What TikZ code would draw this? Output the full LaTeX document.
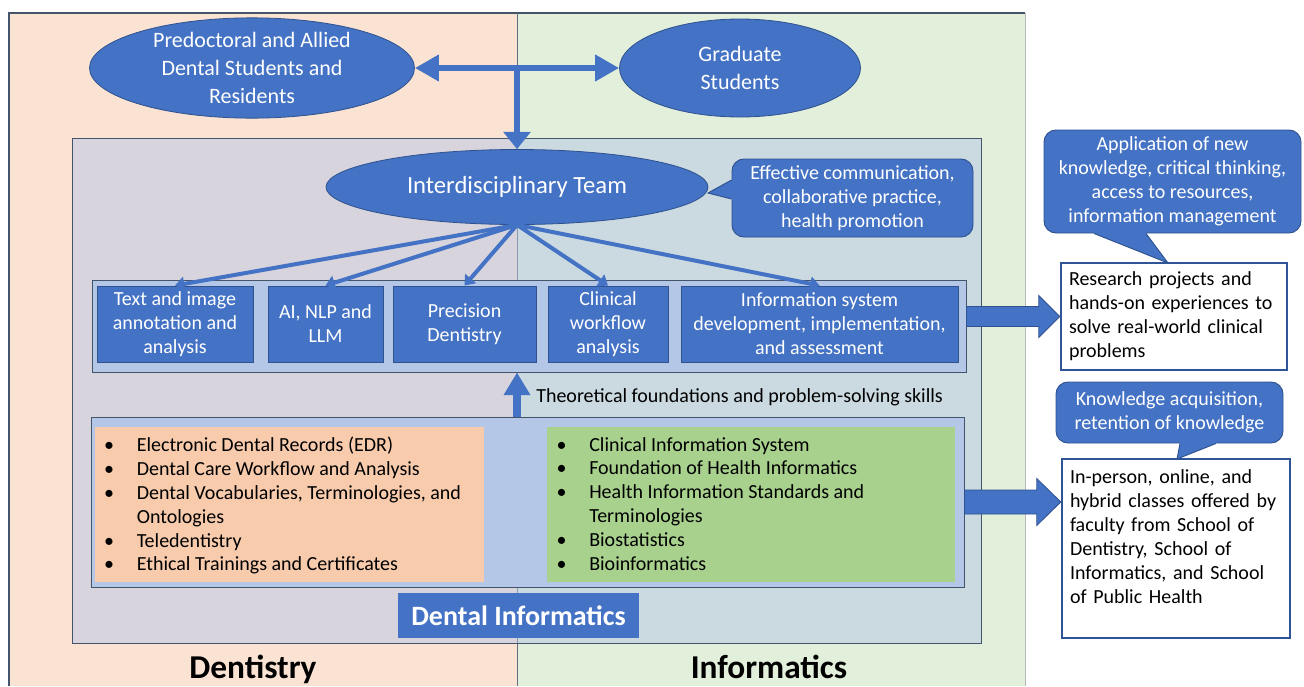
\documentclass[tikz,border=0pt]{standalone}
\usepackage{fontspec}
\setmainfont{Carlito}
\usetikzlibrary{arrows.meta,shapes.geometric,calc}

% one unit of the drawing grid
\newdimen\pxu
\pxu=0.75pt
% bullet hung to the left of a list line
\newcommand{\lbul}{\llap{\textbullet\hspace{17pt}}}

\definecolor{peachbg}{HTML}{FBE3D4}
\definecolor{greenbg}{HTML}{E2EFDA}
\definecolor{rowblue}{HTML}{B4C7E7}
\definecolor{accblue}{HTML}{4472C4}
\definecolor{edgeblue}{HTML}{2F528F}
\definecolor{frameblue}{HTML}{2F5597}
\definecolor{peachlist}{HTML}{F8CBAD}
\definecolor{greenlist}{HTML}{A9D18E}
\definecolor{framegray}{HTML}{44546A}

\begin{document}
\begin{tikzpicture}[x=0.75pt, y=-0.75pt,
  bodyfont/.style={font=\fontsize{15}{18}\selectfont},
  blueell/.style={ellipse, draw=edgeblue, line width=0.6pt, fill=accblue,
    text=white, inner sep=0pt, align=center},
  bluebox/.style={rectangle, draw=edgeblue, line width=0.7pt, fill=accblue,
    text=white, inner sep=0pt, align=center, bodyfont},
  callout/.style={bluebox, rounded corners=12\pxu},
  tray/.style={rectangle, draw=framegray, line width=0.7pt, fill=rowblue, inner sep=0pt},
  listbox/.style={rectangle, inner sep=0pt, minimum height=155\pxu},
  listtext/.style={anchor=north west, inner sep=0pt, align=left,
    font=\fontsize{15}{17.85}\selectfont},
  whitebox/.style={rectangle, draw=frameblue, line width=1.8pt, fill=white,
    inner xsep=8\pxu, inner ysep=0pt, align=left, bodyfont, text=black},
  link/.style={accblue, line width=3pt, -{Triangle[length=7pt,width=10.5pt]}},
  thickarrow/.style={accblue, line width=5pt},
  tail/.style={fill=accblue},
  tailedge/.style={draw=edgeblue, line width=0.7pt},
  blockarrow/.style={fill=accblue, draw=edgeblue, line width=0.6pt},
  sidelabel/.style={font=\fontsize{25}{30}\selectfont\bfseries, text=black,
    inner sep=0pt, anchor=base},
]
\useasboundingbox (0,0) rectangle (1304,686);

% the two subject areas
\fill[peachbg] (9,13) rectangle (517,686);
\fill[greenbg] (517,13) rectangle (1025,686);
\draw[framegray, line width=0.8pt] (9,686) -- (9,13) -- (1025,13);
\draw[gray!55, line width=0.6pt] (1025,13) -- (1025,686);
\draw[framegray!85, line width=0.6pt] (517,13) -- (517,686);

% shared team area, half transparent over both subjects
\node[rectangle, draw=framegray, line width=0.7pt, fill=rowblue, fill opacity=0.5,
  inner sep=0pt, minimum width=909\pxu, minimum height=505\pxu] (inner) at (526.5,390.5) {};

% student groups
\node[blueell, minimum width=325\pxu, minimum height=97\pxu,
  font=\fontsize{16.5}{20.8}\selectfont] (pre) at (252,68)
  {Predoctoral and Allied\\Dental Students and\\Residents};
\node[blueell, minimum width=241\pxu, minimum height=98\pxu,
  font=\fontsize{16.5}{20.8}\selectfont] (grad) at (740,68)
  {Graduate\\Students};

\node[blueell, minimum width=382\pxu, minimum height=75\pxu,
  font=\fontsize{18.5}{22}\selectfont] (team) at (517,187) {Interdisciplinary Team};

\coordinate (jn) at (517,68);
\draw[thickarrow, {Triangle[length=18pt,width=19pt]}-{Triangle[length=18pt,width=19pt]}]
  (pre.east) -- (grad.west);
\draw[thickarrow, -{Triangle[length=13pt,width=20pt]}] (jn) -- (team.north);

% team callout
\node[callout, minimum width=241\pxu, minimum height=78\pxu] (effc) at (852.5,198)
  {Effective communication,\\collaborative practice,\\health promotion};
\coordinate (effTip) at (708,193);
\fill[tail] ($(effc.west)+(0,-18)$) -- (effTip) -- ($(effc.west)+(0,1)$)
  -- ($(effc.west)+(3,1)$) -- ($(effc.west)+(3,-18)$) -- cycle;
\draw[tailedge] ($(effc.west)+(0,-18)$) -- (effTip) -- ($(effc.west)+(0,1)$);

% research areas
\node[tray, minimum width=874\pxu, minimum height=92\pxu] (rowbox) at (529,326) {};
\node[bluebox, minimum width=156\pxu, minimum height=76\pxu] (b1) at (175,324)
  {Text and image\\annotation and\\analysis};
\node[bluebox, minimum width=115\pxu, minimum height=76\pxu] (b2) at (325.5,324)
  {AI, NLP and\\LLM};
\node[bluebox, minimum width=143\pxu, minimum height=76\pxu] (b3) at (464.5,324)
  {Precision\\Dentistry};
\node[bluebox, minimum width=120\pxu, minimum height=76\pxu] (b4) at (608,324)
  {Clinical\\workflow\\analysis};
\node[bluebox, minimum width=277\pxu, minimum height=76\pxu] (b5) at (819.5,324)
  {Information system\\development, implementation,\\and assessment};
\foreach \b in {b1,b2,b3,b4,b5}
  \draw[link] (team.south) -- (\b.north);

% coursework
\node[tray, minimum width=873\pxu, minimum height=170\pxu] (botbox) at (527.5,502) {};
\node[listbox, fill=peachlist, minimum width=389\pxu] (dentbox) at (289.5,504.5) {};
\node[listbox, fill=greenlist, minimum width=408\pxu] (infobox) at (751,504.5) {};
\node[listtext] (dentlist) at (136.5,437)
  {\lbul Electronic Dental Records (EDR)\\
   \lbul Dental Care Workflow and Analysis\\
   \lbul Dental Vocabularies, Terminologies, and\\
   Ontologies\\
   \lbul Teledentistry\\
   \lbul Ethical Trainings and Certificates};
\node[listtext] (infolist) at (589,437)
  {\lbul Clinical Information System\\
   \lbul Foundation of Health Informatics\\
   \lbul Health Information Standards and\\
   Terminologies\\
   \lbul Biostatistics\\
   \lbul Bioinformatics};

\draw[accblue, line width=6pt, -{Triangle[length=17pt,width=19pt]}]
  (botbox.north -| team.south) -- (rowbox.south -| team.south);
\node[bodyfont, anchor=west, inner sep=0pt] (theo) at (536,397)
  {Theoretical foundations and problem-solving skills};

\node[rectangle, fill=accblue, text=white, inner sep=0pt, minimum width=241\pxu,
  minimum height=45\pxu, font=\fontsize{21}{25}\selectfont\bfseries] (dinf)
  at (518.5,615.5) {Dental Informatics};

\node[sidelabel] (dentlab) at (253,678) {Dentistry};
\node[sidelabel] (inflab) at (769,678) {Informatics};

% outcomes
\node[callout, minimum width=257\pxu, minimum height=103\pxu] (app) at (1172.5,181.5)
  {Application of new\\knowledge, critical thinking,\\access to resources,\\information management};
\coordinate (appTip) at (1168,263);
\fill[tail] ($(app.south)+(-78.5,0)$) -- (appTip) -- ($(app.south)+(-26.5,0)$)
  -- ($(app.south)+(-26.5,-3)$) -- ($(app.south)+(-78.5,-3)$) -- cycle;
\draw[tailedge] ($(app.south)+(-78.5,0)$) -- (appTip) -- ($(app.south)+(-26.5,0)$);

\node[whitebox, minimum height=107\pxu, text width=210\pxu] (res) at (1174,316.5)
  {Research projects and\\hands-on experiences to\\solve real-world clinical\\problems};

\node[callout, minimum width=227\pxu, minimum height=61\pxu] (know) at (1169.5,412.5)
  {Knowledge acquisition,\\retention of knowledge};
\coordinate (knowTip) at (1177,459);
\fill[tail] ($(know.south)+(10.5,0)$) -- (knowTip) -- ($(know.south)+(46.5,0)$)
  -- ($(know.south)+(46.5,-3)$) -- ($(know.south)+(10.5,-3)$) -- cycle;
\draw[tailedge] ($(know.south)+(10.5,0)$) -- (knowTip) -- ($(know.south)+(46.5,0)$);

\node[whitebox, minimum height=179\pxu, text width=212\pxu] (cls) at (1176,548.5)
  {In-person, online, and\\hybrid classes offered by\\faculty from School of\\Dentistry, School of\\Informatics, and School\\of Public Health\\ \mbox{}};

% block arrows towards the outcomes
\coordinate (a1s) at (rowbox.east |- res.west);
\coordinate (a1e) at (res.west);
\draw[blockarrow] ($(a1s)+(0,-10)$) -- ($(a1e)+(-21,-10)$) -- ($(a1e)+(-21,-21)$)
  -- (a1e) -- ($(a1e)+(-21,21)$) -- ($(a1e)+(-21,10)$) -- ($(a1s)+(0,10)$) -- cycle;
\coordinate (a2s) at (botbox.east);
\coordinate (a2e) at (botbox.east -| cls.west);
\draw[blockarrow] ($(a2s)+(0,-12)$) -- ($(a2e)+(-24,-12)$) -- ($(a2e)+(-24,-23.5)$)
  -- (a2e) -- ($(a2e)+(-24,23.5)$) -- ($(a2e)+(-24,12)$) -- ($(a2s)+(0,12)$) -- cycle;
\end{tikzpicture}
\end{document}
